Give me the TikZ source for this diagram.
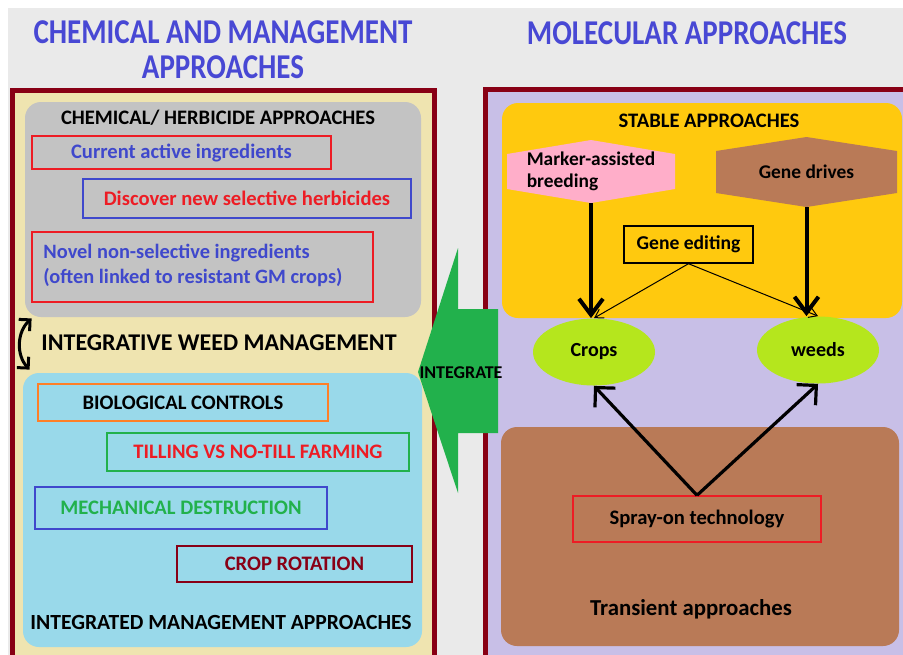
\documentclass[tikz,border=0pt]{standalone}
\usepackage{graphicx}
\usepackage{fontspec}
\setmainfont{Carlito}
\usepackage{xcolor}
\usetikzlibrary{positioning,arrows.meta,shapes.geometric,fit,calc}

\definecolor{pagegray}{HTML}{EAEAEA}
\definecolor{darkred}{HTML}{880015}
\definecolor{wheat}{HTML}{EFE4B0}
\definecolor{lavender}{HTML}{C8BFE7}
\definecolor{boxgray}{HTML}{C3C3C3}
\definecolor{skyblue}{HTML}{99D9EA}
\definecolor{sunyellow}{HTML}{FFC90E}
\definecolor{pinkhex}{HTML}{FFAEC9}
\definecolor{brownbox}{HTML}{B97A57}
\definecolor{lime}{HTML}{B5E61D}
\definecolor{arrowgreen}{HTML}{22B14C}
\definecolor{brightred}{HTML}{ED1C24}
\definecolor{textblue}{HTML}{3F48CC}
\definecolor{titleblue}{HTML}{4848D4}
\definecolor{orangeline}{HTML}{FF7F27}

\newcommand{\tallcaps}[1]{\scalebox{1}[1.2]{#1}}

\begin{document}
\begin{tikzpicture}[x=0.5pt, y=-0.5pt, font=\bfseries,
  every node/.style={inner sep=0pt},
  panel/.style={draw=darkred, line width=2.5pt},
  bigbox/.style={rounded corners=8pt, inner sep=0pt},
  itembox/.style={draw=#1, line width=0.7pt, inner sep=0pt, font=\bfseries\fontsize{10.3}{12.5}\selectfont},
  hexbox/.style={inner sep=0pt, font=\bfseries\fontsize{9.7}{11}\selectfont,
    path picture={\fill[#1]
      ([yshift=-7pt]path picture bounding box.north west) -- (path picture bounding box.north) --
      ([yshift=-7pt]path picture bounding box.north east) -- ([yshift=7pt]path picture bounding box.south east) --
      (path picture bounding box.south) -- ([yshift=7pt]path picture bounding box.south west) -- cycle;}},
  blob/.style={ellipse, fill=lime, minimum width=61pt, minimum height=33.5pt, font=\bfseries\fontsize{10}{12}\selectfont},
  titletext/.style={text=titleblue, align=center, font=\bfseries\fontsize{14.5}{17.5}\selectfont},
  headtext/.style={font=\bfseries\fontsize{10.3}{12}\selectfont},
  bighead/.style={font=\bfseries\fontsize{12}{14}\selectfont},
  bigarrow/.style={line width=2pt, -{Straight Barb[length=8pt, width=12pt]}},
  thinarrow/.style={line width=0.5pt, -{Straight Barb[length=4pt, width=5pt]}},
  sprayarrow/.style={line width=1.6pt, -{Straight Barb[length=7pt, width=14pt]}}]

  \useasboundingbox (0,0) rectangle (903,654);
  \clip (0,0) rectangle (903,654);

  % page and the two panels
  \fill[pagegray] (8,8) rectangle (910,660);
  \draw[panel, fill=wheat] (12.5,90.5) rectangle (434.5,670);
  \draw[panel, fill=lavender] (485.5,89.5) rectangle (920,670);

  \node[titletext] (lefttitle) at (223,50) {\tallcaps{CHEMICAL AND MANAGEMENT}\\\tallcaps{APPROACHES}};
  \node[titletext] (righttitle) at (687,33) {\tallcaps{MOLECULAR APPROACHES}};

  % herbicide block
  \node[bigbox, fill=boxgray, fit={(25,102) (421,317)}] (chembox) {};
  \node[headtext] (chemhead) at (218,118) {CHEMICAL/ HERBICIDE APPROACHES};
  \node[itembox=brightred, text=textblue, minimum width=149.5pt, minimum height=16.5pt] (current) at (181.5,152.5) {Current active ingredients};
  \node[itembox=textblue, text=brightred, minimum width=164pt, minimum height=19.5pt] (discover) at (247,198.5) {Discover new selective herbicides};
  \node[itembox=brightred, minimum width=170.5pt, minimum height=35pt] (novel) at (202.5,267) {};
  \node[anchor=west, align=left, text=textblue, font=\bfseries\fontsize{10.2}{12.5}\selectfont] (noveltext) at (43,265)
    {Novel non-selective ingredients\\(often linked to resistant GM crops)};

  \node[bighead] (iwm) at (219,343) {INTEGRATIVE WEED MANAGEMENT};

  % management block
  \node[bigbox, fill=skyblue, fit={(23,373) (422,647)}] (intbox) {};
  \node[itembox=orangeline, minimum width=145pt, minimum height=18.5pt] (bio) at (183,402.5) {BIOLOGICAL CONTROLS};
  \node[itembox=arrowgreen, text=brightred, minimum width=151pt, minimum height=19pt] (till) at (258,452) {TILLING VS NO-TILL FARMING};
  \node[itembox=textblue, text=arrowgreen, minimum width=146pt, minimum height=21pt] (mech) at (181,508) {MECHANICAL DESTRUCTION};
  \node[itembox=darkred, text=darkred, minimum width=117.5pt, minimum height=18pt] (rotation) at (294.5,564) {CROP ROTATION};
  \node[font=\bfseries\fontsize{10.8}{13}\selectfont] (imahead) at (221,622) {INTEGRATED MANAGEMENT APPROACHES};

  \draw[line width=1.5pt, {Straight Barb[length=4pt, width=8pt]}-{Straight Barb[length=4pt, width=8pt]}]
    ([shift={(7,1)}]chembox.south west) to[bend right=45] ([shift={(7,-3)}]intbox.north west);

  % integrate arrow
  \fill[arrowgreen] (418,372) -- (458,248) -- (458,309) -- (498,309) -- (498,433) -- (458,433) -- (458,493) -- cycle;
  \node[font=\bfseries\fontsize{9}{10}\selectfont] (integrate) at (461,373) {INTEGRATE};

  % stable approaches
  \node[bigbox, fill=sunyellow, fit={(502,103) (902,318)}] (stablebox) {};
  \node[headtext] (stablehead) at (709,121) {STABLE APPROACHES};
  \node[hexbox=pinkhex, minimum width=84pt, minimum height=31.5pt, align=left] (mab) at (591,171.5) {Marker-assisted\\breeding};
  \node[hexbox=brownbox, minimum width=90.5pt, minimum height=35pt] (drives) at (806.5,172) {Gene drives};
  \node[itembox=black, font=\bfseries\fontsize{9.8}{11}\selectfont, minimum width=64.5pt, minimum height=18.5pt] (gedit) at (688.5,244.5) {Gene editing};

  \node[blob] (crops) at (594,352) {Crops};
  \node[blob] (weeds) at (818,350) {weeds};

  % transient approaches
  \node[bigbox, fill=brownbox, fit={(501,427) (899,646)}] (transbox) {};
  \node[itembox=brightred, minimum width=124pt, minimum height=23pt] (spray) at (697,519) {Spray-on technology};
  \node[font=\bfseries\fontsize{11.4}{13}\selectfont] (transhead) at (691,609) {Transient approaches};

  \draw[bigarrow] (mab.south) -- (mab.south |- crops.north);
  \draw[bigarrow] (drives.south) -- (drives.south |- weeds.north);
  \draw[thinarrow] (gedit.south) -- (crops.north);
  \draw[thinarrow] (gedit.south) -- (weeds.north);
  \draw[sprayarrow] (spray.north) -- (crops.south);
  \draw[sprayarrow] (spray.north) -- (weeds.south);
\end{tikzpicture}
\end{document}
